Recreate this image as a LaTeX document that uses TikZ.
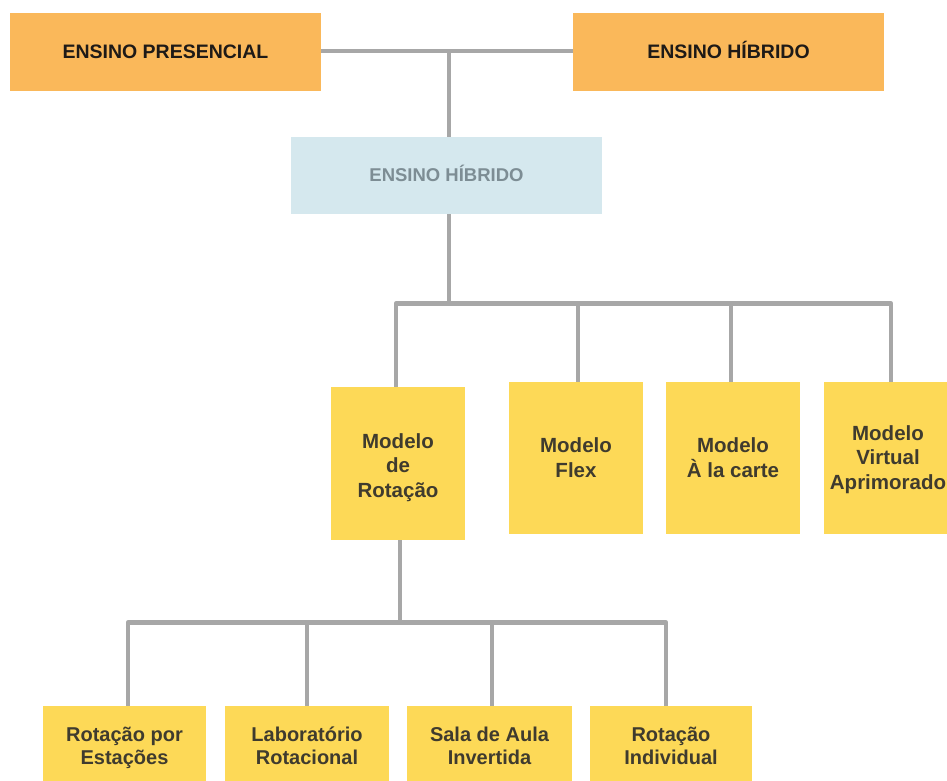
\documentclass[tikz,border=0pt]{standalone}
\usepackage{fontspec}
\setmainfont{Liberation Sans}
\definecolor{orangebox}{HTML}{FAB85A}
\definecolor{yellowbox}{HTML}{FDD957}
\definecolor{bluebox}{HTML}{D5E8EE}
\definecolor{linegray}{HTML}{A7A7A7}
\definecolor{toptext}{HTML}{1E1A17}
\definecolor{bluetext}{HTML}{7D8D94}
\definecolor{ytext}{HTML}{3F3B2E}
\newcommand\ph{\vphantom{ÀÍgp}}
\begin{document}
\begin{tikzpicture}[x=1pt,y=-1pt,
  topbox/.style={rectangle, fill=orangebox, minimum width=311pt, minimum height=78pt, inner sep=0pt,
     font=\fontsize{19.5}{23}\selectfont\bfseries, text=toptext},
  midbox/.style={rectangle, fill=bluebox, minimum width=311pt, minimum height=77pt, inner sep=0pt,
     font=\fontsize{18.5}{22}\selectfont\bfseries, text=bluetext},
  modbox/.style={rectangle, fill=yellowbox, minimum width=134pt, minimum height=152pt, inner sep=0pt,
     align=center, font=\fontsize{20.5}{24.5}\selectfont\bfseries, text=ytext},
  modtext/.style={rectangle, inner sep=0pt, align=center,
     font=\fontsize{20.5}{24.5}\selectfont\bfseries, text=ytext},
  subbox/.style={rectangle, fill=yellowbox, minimum width=164pt, minimum height=80pt, inner sep=0pt,
     align=center, font=\fontsize{20}{23}\selectfont\bfseries, text=ytext},
  conn/.style={draw=linegray, line width=4.5pt, line join=round}]
\useasboundingbox (0,0) rectangle (947,780);
\clip (0,0) rectangle (947,780);

% top row
\node[topbox] (tl) at (165.5,52) {\ph ENSINO PRESENCIAL};
\node[topbox] (tr) at (728.5,52) {\ph ENSINO HÍBRIDO};
\node[midbox] (mid) at (446.5,175.5) {\ph ENSINO HÍBRIDO};

% models
\node[modbox, minimum height=153pt] (rot) at (398,463.5) {};
\node[modtext] (rott) at (398,466) {\ph Modelo\\de\\\ph Rotação};
\node[modbox] (flex) at (576,458) {\ph Modelo\\\ph Flex};
\node[modbox] (carte) at (733,458) {\ph Modelo\\\ph À la carte};
\node[modbox] (virt) at (891,458) {};
\node[modtext] (virtt) at (888,458) {\ph Modelo\\Virtual\\\ph Aprimorado};

% sub-models
\node[subbox, minimum width=163pt] (s1) at (124.5,746) {\ph Rotação por\\\ph Estações};
\node[subbox] (s2) at (307,746) {\ph Laboratório\\\ph Rotacional};
\node[subbox, minimum width=165pt] (s3) at (489.5,746) {\ph Sala de Aula\\\ph Invertida};
\node[subbox, minimum width=162pt] (s4) at (671,746) {\ph Rotação\\\ph Individual};

% junction coordinates
\coordinate (t0) at (449,51);
\coordinate (b0) at (449,303.5);
\coordinate (b1) at (396,303.5);
\coordinate (b2) at (578,303.5);
\coordinate (b3) at (731,303.5);
\coordinate (b4) at (891,303.5);
\coordinate (r0) at (400,622.5);
\coordinate (c1) at (128,622.5);
\coordinate (c2) at (307,622.5);
\coordinate (c3) at (492,622.5);
\coordinate (c4) at (666,622.5);

% connectors
\draw[conn] (tl.east |- t0) -- (tr.west |- t0);
\draw[conn] (t0) -- (t0 |- mid.north);
\draw[conn] (mid.south -| b0) -- (b0);
\draw[conn] (b1 |- rot.north) -- (b1) -- (b4) -- (b4 |- virt.north);
\draw[conn] (b2) -- (b2 |- flex.north);
\draw[conn] (b3) -- (b3 |- carte.north);
\draw[conn] (rot.south -| r0) -- (r0);
\draw[conn] (c1 |- s1.north) -- (c1) -- (c4) -- (c4 |- s4.north);
\draw[conn] (c2) -- (c2 |- s2.north);
\draw[conn] (c3) -- (c3 |- s3.north);
\end{tikzpicture}
\end{document}
